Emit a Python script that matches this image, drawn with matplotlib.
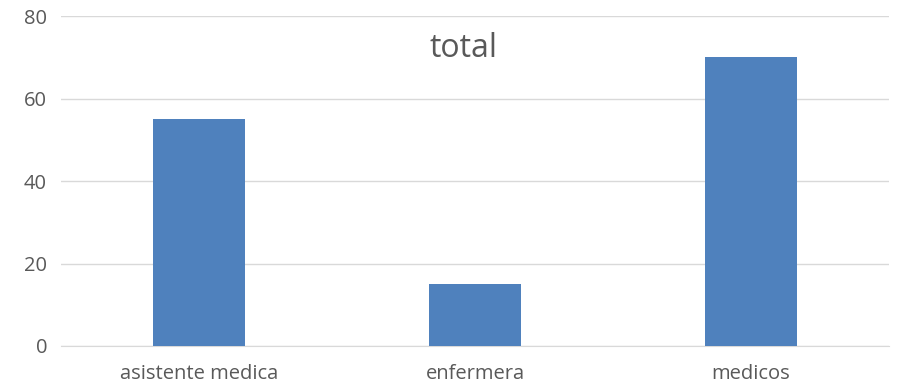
import matplotlib.pyplot as plt

categorias = ["asistente medica", "enfermera", "medicos"]
valores = [55, 15, 70]
yticks = [0, 20, 40, 60, 80]

plt.rcParams['font.family'] = ['Open Sans', 'DejaVu Sans']

fig = plt.figure(figsize=(9.17, 3.91), dpi=100)
ax = fig.add_axes([0.0665, 0.1151, 0.903, 0.8439])

x = range(len(categorias))
ax.bar(x, valores, width=0.33, color="#4F81BD", zorder=3)

ax.set_xlim(-0.5, len(categorias) - 0.5)
ax.set_ylim(0, 80)
ax.set_yticks(yticks)
ax.set_xticks(list(x))
ax.set_xticklabels(categorias)
ax.grid(axis="y", color="#D9D9D9", linewidth=1, zorder=0)
for s in ["top", "right", "left"]:
    ax.spines[s].set_visible(False)
ax.spines["bottom"].set_color("#D9D9D9")
ax.tick_params(axis="both", length=0, labelsize=14.5, colors="#595959")
ax.tick_params(axis="y", pad=10)
ax.tick_params(axis="x", pad=13)

# titulo centrado en la figura, dentro del area de trazado
fig.text(0.505, 0.877, "total", ha="center", va="center",
         fontsize=23, color="#595959")

fig.savefig("out.png", dpi=100)
